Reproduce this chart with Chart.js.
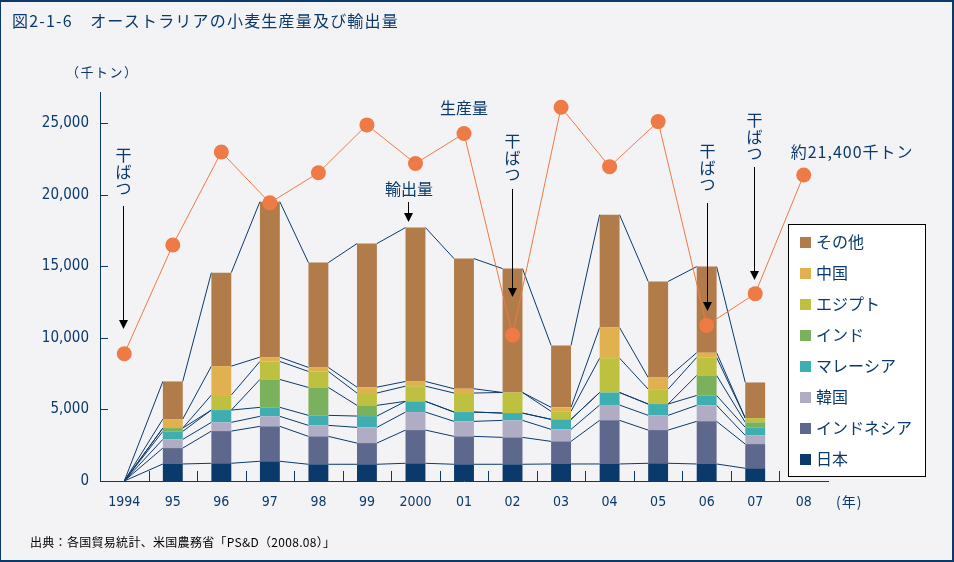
<!DOCTYPE html>
<html><head><meta charset="utf-8">
<script src="https://cdn.jsdelivr.net/npm/chart.js@4/dist/chart.umd.min.js"></script>
<style>
html,body{margin:0;padding:0;background:#f3f3f6;}
#wrap{position:relative;width:954px;height:562px;overflow:hidden;background:#f3f3f6;}
#frame{position:absolute;left:0;top:0;width:954px;height:562px;box-sizing:border-box;border:1px solid #0a3a6b;border-right-width:2px;border-bottom-width:2px;border-top-width:2px;pointer-events:none;}
canvas{position:absolute;left:0;top:0;}
.t{position:absolute;color:#0a3a6b;font-family:'Noto Sans CJK JP',sans-serif;white-space:nowrap;line-height:1;}
</style></head><body>
<div id="wrap">
<canvas id="c" width="954" height="562"></canvas>
<div class="t" style="left:12px;top:12px;font-size:16px;letter-spacing:1.2px;">図2-1-6　オーストラリアの小麦生産量及び輸出量</div>
<div class="t" style="left:66px;top:65px;font-size:13px;letter-spacing:1.5px;">（千トン）</div>
<div class="t" style="left:836px;top:494px;font-size:14px;letter-spacing:1px;">(年)</div>
<div class="t" style="left:30px;top:536px;font-size:12px;color:#000;letter-spacing:0.3px;">出典：各国貿易統計、米国農務省「PS&amp;D（2008.08）」</div>
<div id="frame"></div>
</div>
<script>
// ---- data ----
const years = ['1994','95','96','97','98','99','2000','01','02','03','04','05','06','07','08'];
const production = [8900,16500,23000,19450,21550,24900,22200,24300,10200,26130,21980,25130,10880,13100,21400];
const japan     = [0,1190,1240,1380,1170,1170,1240,1170,1170,1190,1190,1240,1190,890,null];
const indonesia = [0,1110,2250,2440,1950,1480,2320,1950,1880,1580,3050,2320,2980,1690,null];
const korea     = [0,610,610,700,770,1100,1260,1050,1190,840,1070,1030,1120,610,null];
const malaysia  = [0,560,860,630,700,790,750,650,510,700,880,790,690,560,null];
const india     = [0,230,0,1950,1950,750,0,0,0,0,0,0,1400,350,null];
const egypt     = [0,0,1050,1260,1120,860,1060,1330,1440,560,2400,1040,1260,300,null];
const china     = [0,630,2020,300,280,410,330,300,0,280,2140,820,330,0,null];
const others    = [0,2630,6540,10870,7330,10040,10760,9100,8660,4330,7890,6710,6020,2490,null];
const yTicks = [0,5000,10000,15000,20000,25000];

const NAVY = '#0a3a6b';
const ORANGE = '#ee7a45';
const JP = "'Noto Sans CJK JP', sans-serif";
const NUM = "'Liberation Sans Narrow', 'DejaVu Sans Condensed', sans-serif";

const barSeries = [
  {label:'日本', data:japan, color:'#0a3a6b'},
  {label:'インドネシア', data:indonesia, color:'#5e678c'},
  {label:'韓国', data:korea, color:'#afacc4'},
  {label:'マレーシア', data:malaysia, color:'#3eaeb0'},
  {label:'インド', data:india, color:'#7bb05c'},
  {label:'エジプト', data:egypt, color:'#bec13f'},
  {label:'中国', data:china, color:'#e1b04f'},
  {label:'その他', data:others, color:'#b17c4a'}
];

const datasets = barSeries.map(s => ({
  type:'bar', label:s.label, data:s.data, backgroundColor:s.color,
  borderWidth:0, stack:'exp', categoryPercentage:1, barPercentage:0.41, order:1
}));
datasets.push({
  type:'line', label:'生産量', data:production, stack:'prod', order:0,
  borderColor:ORANGE, borderWidth:1, pointRadius:7.5, pointBackgroundColor:ORANGE,
  pointBorderWidth:0, fill:false, tension:0
});

// series lines between stacked bars
const seriesLines = {
  id:'seriesLines',
  beforeDatasetsDraw(chart){
    const ctx = chart.ctx;
    ctx.save();
    ctx.strokeStyle = NAVY; ctx.lineWidth = 1;
    const n = years.length;
    for (let d = 0; d < barSeries.length; d++){
      const meta = chart.getDatasetMeta(d);
      for (let i = 0; i < n-1; i++){
        if (barSeries[0].data[i] == null || barSeries[0].data[i+1] == null) continue;
        const a = meta.data[i], b = meta.data[i+1];
        const totA = barSeries.reduce((s,x)=>s+(x.data[i]||0),0);
        const xa = totA === 0 ? a.x : a.x + a.width/2;
        const xb = b.x - b.width/2;
        ctx.beginPath(); ctx.moveTo(xa, a.y); ctx.lineTo(xb, b.y); ctx.stroke();
      }
    }
    ctx.restore();
  }
};

// inward axis ticks
const axisTicks = {
  id:'axisTicks',
  afterDraw(chart){
    const ctx = chart.ctx, xs = chart.scales.x, ys = chart.scales.y, ca = chart.chartArea;
    ctx.save(); ctx.strokeStyle = NAVY; ctx.lineWidth = 1;
    yTicks.forEach(v => { if (!v) return; const y = Math.round(ys.getPixelForValue(v))+0.5;
      ctx.beginPath(); ctx.moveTo(ca.left, y); ctx.lineTo(ca.left+8, y); ctx.stroke(); });
    for (let i = 0; i < years.length-1; i++){
      const x = Math.round((xs.getPixelForValue(i)+xs.getPixelForValue(i+1))/2)+0.5;
      ctx.beginPath(); ctx.moveTo(x, ca.bottom); ctx.lineTo(x, ca.bottom-10); ctx.stroke();
    }
    ctx.restore();
  }
};

function arrow(ctx, x, y1, tip){
  ctx.strokeStyle = '#000'; ctx.fillStyle = '#000'; ctx.lineWidth = 1;
  ctx.beginPath(); ctx.moveTo(x+0.5, y1); ctx.lineTo(x+0.5, tip-8); ctx.stroke();
  ctx.beginPath(); ctx.moveTo(x-4, tip-9); ctx.lineTo(x+5, tip-9); ctx.lineTo(x+0.5, tip); ctx.closePath(); ctx.fill();
}

const notes = {
  id:'notes',
  afterDatasetsDraw(chart){
    const ctx = chart.ctx, xs = chart.scales.x;
    ctx.save();
    ctx.font = '16px ' + JP; ctx.textAlign = 'center'; ctx.textBaseline = 'middle';
    const drought = [{i:0, top:155, from:206, tip:329, dx:-1},{i:8, top:141, from:189, tip:297, dx:-1},
                     {i:12, top:151, from:203, tip:311, dx:0},{i:13, top:120, from:167, tip:280, dx:-1}];
    drought.forEach(d => {
      const x = Math.round(xs.getPixelForValue(d.i)) + d.dx;
      ctx.fillStyle = NAVY;
      ['干','ば','つ'].forEach((c,k) => ctx.fillText(c, x+0.5, d.top + k*16.5));
      arrow(ctx, x, d.from, d.tip);
    });
    ctx.fillStyle = NAVY;
    const x6 = Math.round(xs.getPixelForValue(6));
    ctx.fillText('輸出量', x6-6, 189);
    arrow(ctx, x6-7, 202, 222);
    ctx.fillStyle = NAVY;
    ctx.fillText('生産量', xs.getPixelForValue(7), 108);
    ctx.textAlign = 'left';
    ctx.letterSpacing = '1px';
    ctx.fillText('約21,400千トン', xs.getPixelForValue(14)-13, 152);
    ctx.restore();
  },
  afterDraw(chart){
    const ctx = chart.ctx;
    ctx.save();
    const L = 788.5, T = 224.5, W = 137, H = 252;
    ctx.fillStyle = '#ffffff'; ctx.fillRect(L, T, W, H);
    ctx.strokeStyle = '#000'; ctx.lineWidth = 1; ctx.strokeRect(L, T, W, H);
    ctx.font = '16px ' + JP; ctx.textAlign = 'left'; ctx.textBaseline = 'middle';
    const items = barSeries.slice().reverse();
    items.forEach((s,k) => {
      const cy = 242 + k*31;
      ctx.fillStyle = s.color; ctx.fillRect(800, Math.round(cy-5.5), 11, 11);
      ctx.fillStyle = NAVY; ctx.fillText(s.label, 816, cy);
    });
    ctx.restore();
  }
};

new Chart(document.getElementById('c'), {
  data:{ labels:years, datasets:datasets },
  options:{
    responsive:false, animation:false, events:[], devicePixelRatio:1,
    layout:{ padding:{ top:92, right:126, bottom:0, left:0 } },
    plugins:{ legend:{display:false}, tooltip:{enabled:false}, title:{display:false} },
    scales:{
      x:{ stacked:true, offset:true,
          grid:{ display:false, drawTicks:false },
          border:{ display:true, color:NAVY, width:1 },
          ticks:{ color:NAVY, padding:13, maxRotation:0, autoSkip:false,
                  font:{ family:NUM, size:14 } },
          afterFit(s){ s.height = 81; } },
      y:{ stacked:true, min:0, max:27200,
          grid:{ display:false, drawTicks:false },
          border:{ display:true, color:NAVY, width:1 },
          afterBuildTicks(s){ s.ticks = yTicks.map(v => ({value:v})); },
          ticks:{ color:NAVY, padding:11, autoSkip:false,
                  font:{ family:NUM, size:15 },
                  callback:(v) => Number(v).toLocaleString('en-US') },
          afterFit(s){ s.width = 100; } }
    }
  },
  plugins:[seriesLines, axisTicks, notes]
});
</script>
</body></html>
